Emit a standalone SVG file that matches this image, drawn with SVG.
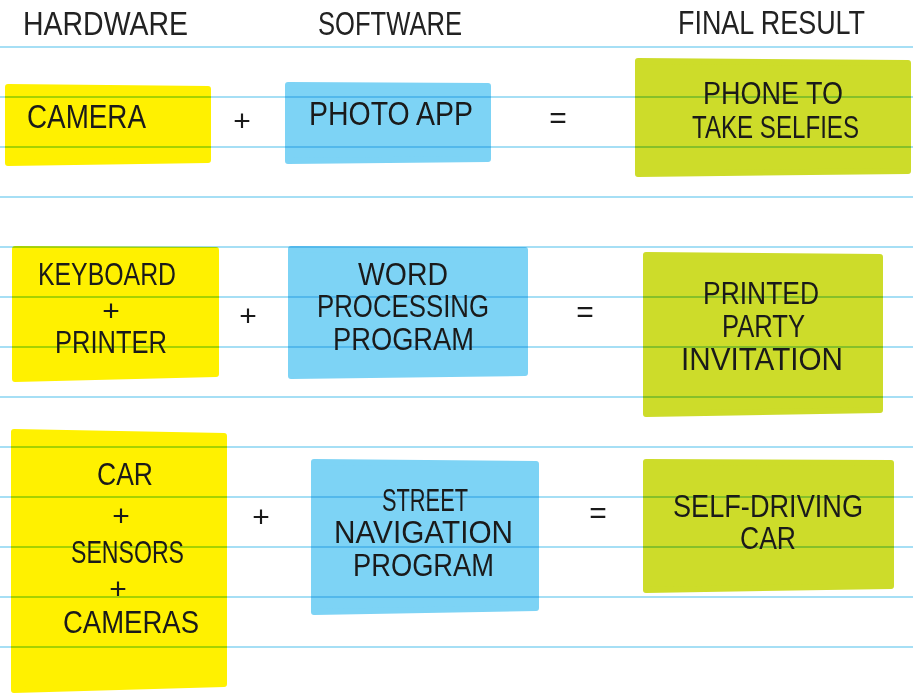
<svg xmlns="http://www.w3.org/2000/svg" width="913" height="693" viewBox="0 0 913 693">
<style>
.note{stroke-width:6;stroke-linejoin:round}
.y{fill:#fff100;stroke:#fff100}
.b{fill:#7dd3f5;stroke:#7dd3f5}
.g{fill:#cddc2a;stroke:#cddc2a}
text{font-family:"Liberation Sans","DejaVu Sans",sans-serif;font-size:31px;fill:#1a1a1a}
.h{font-size:34px;fill:#222222}
.s{font-size:34px}
.op{text-anchor:middle;font-size:30px}
.rules line{stroke:#a6dff5;stroke-width:2;mix-blend-mode:multiply}
</style>
<rect width="913" height="693" fill="#ffffff"/>

<g id="hdr">
<text class="h" x="23" y="35" textLength="165" lengthAdjust="spacingAndGlyphs">HARDWARE</text>
<text class="h" x="318" y="35" textLength="144" lengthAdjust="spacingAndGlyphs">SOFTWARE</text>
<text class="h" x="678" y="34" textLength="187" lengthAdjust="spacingAndGlyphs">FINAL RESULT</text>
</g>

<g id="camera">
<polygon class="note y" points="8,87 208,89 208,160 8,163"/>
</g>
<g id="photo-app">
<polygon class="note b" points="288,85 488,86 488,159 288,161"/>
</g>
<g id="phone">
<polygon class="note g" points="638,61 908,63 908,171 638,174"/>
</g>
<g id="keyboard-printer">
<polygon class="note y" points="15,249 216,250 216,374 15,379"/>
</g>
<g id="word-processing">
<polygon class="note b" points="291,249 525,250 525,373 291,376"/>
</g>
<g id="invitation">
<polygon class="note g" points="646,255 880,257 880,410 646,414"/>
</g>
<g id="car-sensors">
<polygon class="note y" points="14,432 224,436 224,684 14,690"/>
</g>
<g id="street-nav">
<polygon class="note b" points="314,462 536,464 536,608 314,612"/>
</g>
<g id="self-driving">
<polygon class="note g" points="646,462 891,463 891,586 646,590"/>
</g>

<g class="rules">
<line x1="0" y1="47" x2="913" y2="47"/>
<line x1="0" y1="97" x2="913" y2="97"/>
<line x1="0" y1="147" x2="913" y2="147"/>
<line x1="0" y1="197" x2="913" y2="197"/>
<line x1="0" y1="247" x2="913" y2="247"/>
<line x1="0" y1="297" x2="913" y2="297"/>
<line x1="0" y1="347" x2="913" y2="347"/>
<line x1="0" y1="397" x2="913" y2="397"/>
<line x1="0" y1="447" x2="913" y2="447"/>
<line x1="0" y1="497" x2="913" y2="497"/>
<line x1="0" y1="547" x2="913" y2="547"/>
<line x1="0" y1="597" x2="913" y2="597"/>
<line x1="0" y1="647" x2="913" y2="647"/>
</g>

<g id="camera-text">
<text class="s" x="27" y="128" textLength="119" lengthAdjust="spacingAndGlyphs">CAMERA</text>
</g>
<g id="photo-app-text">
<text class="s" x="309" y="125" textLength="164" lengthAdjust="spacingAndGlyphs">PHOTO APP</text>
</g>
<g id="phone-text">
<text x="703" y="104" textLength="140" lengthAdjust="spacingAndGlyphs">PHONE TO</text>
<text x="692" y="138" textLength="167" lengthAdjust="spacingAndGlyphs">TAKE SELFIES</text>
</g>
<g id="keyboard-printer-text">
<text x="38" y="285" textLength="138" lengthAdjust="spacingAndGlyphs">KEYBOARD</text>
<text class="op" x="111" y="321">+</text>
<text x="55" y="353" textLength="112" lengthAdjust="spacingAndGlyphs">PRINTER</text>
</g>
<g id="word-processing-text">
<text x="358" y="285" textLength="90" lengthAdjust="spacingAndGlyphs">WORD</text>
<text x="317" y="317" textLength="172" lengthAdjust="spacingAndGlyphs">PROCESSING</text>
<text x="333" y="350" textLength="141" lengthAdjust="spacingAndGlyphs">PROGRAM</text>
</g>
<g id="invitation-text">
<text x="703" y="304" textLength="116" lengthAdjust="spacingAndGlyphs">PRINTED</text>
<text x="722" y="337" textLength="83" lengthAdjust="spacingAndGlyphs">PARTY</text>
<text x="681" y="370" textLength="162" lengthAdjust="spacingAndGlyphs">INVITATION</text>
</g>
<g id="car-sensors-text">
<text x="97" y="485" textLength="56" lengthAdjust="spacingAndGlyphs">CAR</text>
<text class="op" x="121" y="526">+</text>
<text x="71" y="563" textLength="113" lengthAdjust="spacingAndGlyphs">SENSORS</text>
<text class="op" x="118" y="599">+</text>
<text x="63" y="633" textLength="136" lengthAdjust="spacingAndGlyphs">CAMERAS</text>
</g>
<g id="street-nav-text">
<text x="382" y="511" textLength="86" lengthAdjust="spacingAndGlyphs">STREET</text>
<text x="334" y="543" textLength="179" lengthAdjust="spacingAndGlyphs">NAVIGATION</text>
<text x="353" y="576" textLength="141" lengthAdjust="spacingAndGlyphs">PROGRAM</text>
</g>
<g id="self-driving-text">
<text x="673" y="517" textLength="190" lengthAdjust="spacingAndGlyphs">SELF-DRIVING</text>
<text x="740" y="549" textLength="56" lengthAdjust="spacingAndGlyphs">CAR</text>
</g>

<g id="connectors">
<text class="op" x="242" y="131">+</text>
<text class="op" x="558" y="128">=</text>
<text class="op" x="248" y="326">+</text>
<text class="op" x="585" y="322">=</text>
<text class="op" x="261" y="527">+</text>
<text class="op" x="598" y="523">=</text>
</g>
</svg>
